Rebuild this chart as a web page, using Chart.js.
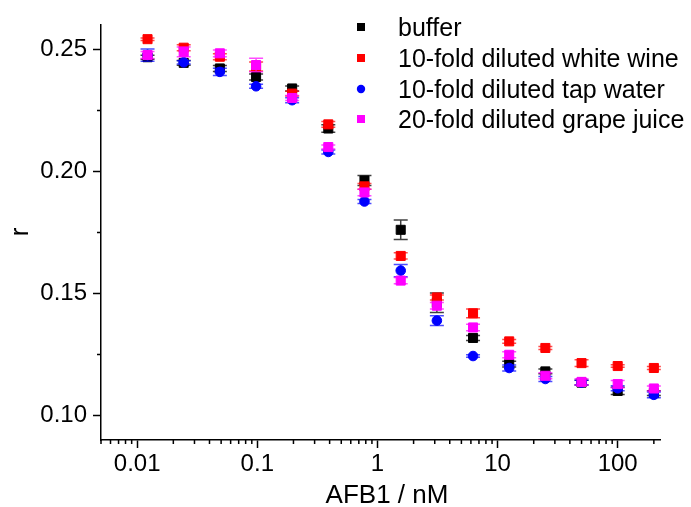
<!DOCTYPE html>
<html>
<head>
<meta charset="utf-8">
<script src="https://cdn.jsdelivr.net/npm/chart.js@4/dist/chart.umd.min.js"></script>
<style>
  html, body { margin: 0; padding: 0; background: #fff; }
  #wrap { width: 691px; height: 507px; }
</style>
</head>
<body>
<div id="wrap"><canvas id="afb-chart" width="691" height="507"></canvas></div>
<script>
// ============================================================
//  AFB1 competition curves – r vs concentration (log x)
// ============================================================

const conc = [0.0122, 0.0244, 0.0488, 0.0977, 0.195, 0.39, 0.78, 1.5625, 3.125, 6.25, 12.5, 25, 50, 100, 200];

const seriesLabels = ['buffer', '10-fold diluted white wine', '10-fold diluted tap water', '20-fold diluted grape juice'];

const buffer   = [0.2468, 0.2445, 0.2422, 0.2387, 0.2340, 0.2176, 0.1963, 0.1761, 0.1462, 0.1318, 0.1211, 0.1181, 0.1135, 0.1101, 0.1092];
const wine     = [0.2542, 0.2507, 0.2470, 0.2430, 0.2319, 0.2193, 0.1939, 0.1654, 0.1484, 0.1419, 0.1304, 0.1277, 0.1215, 0.1203, 0.1195];
const tap      = [0.2477, 0.2447, 0.2408, 0.2349, 0.2292, 0.2080, 0.1877, 0.1594, 0.1389, 0.1244, 0.1195, 0.1150, 0.1135, 0.1112, 0.1085];
const grape    = [0.2477, 0.2490, 0.2484, 0.2436, 0.2301, 0.2100, 0.1914, 0.1553, 0.1450, 0.1361, 0.1249, 0.1163, 0.1138, 0.1129, 0.1111];

const bufferErr = [0.0008, 0.0010, 0.0012, 0.0012, 0.0010, 0.0015, 0.0020, 0.0040, 0.0040, 0.0010, 0.0012, 0.0010, 0.0010, 0.0015, 0.0010];
const wineErr   = [0.0005, 0.0012, 0.0012, 0.0018, 0.0010, 0.0012, 0.0012, 0.0013, 0.0010, 0.0018, 0.0008, 0.0006, 0.0014, 0.0005, 0.0006];
const tapErr    = [0.0025, 0.0007, 0.0015, 0.0008, 0.0010, 0.0008, 0.0008, 0.0025, 0.0020, 0.0005, 0.0012, 0.0010, 0.0010, 0.0010, 0.0012];
const grapeErr  = [0.0014, 0.0020, 0.0014, 0.0028, 0.0010, 0.0008, 0.0013, 0.0013, 0.0013, 0.0013, 0.0012, 0.0012, 0.0013, 0.0015, 0.0010];

const xTicks = [0.01, 0.1, 1, 10, 100];
const yTicks = [0.10, 0.15, 0.20, 0.25];
const yMinorTicks = [0.125, 0.175, 0.225];

const FONT = "'Liberation Sans', Arial, sans-serif";

const styles = [
  { color: '#000000', bar: 'rgba(0,0,0,0.75)',     shape: 'rect' },
  { color: '#ff0000', bar: 'rgba(255,0,0,0.7)',    shape: 'rect' },
  { color: '#0000ff', bar: 'rgba(0,0,255,0.7)',    shape: 'circle' },
  { color: '#ff00ff', bar: 'rgba(255,0,255,0.7)',  shape: 'rect' },
];

const values = [buffer, wine, tap, grape];
const errors = [bufferErr, wineErr, tapErr, grapeErr];

// error bars, drawn just before each dataset's own symbols
const errorBars = {
  id: 'errorBars',
  beforeDatasetDraw(chart, args) {
    const i = args.index;
    const { ctx, scales: { x, y } } = chart;
    const cap = 7;
    ctx.save();
    ctx.strokeStyle = styles[i].bar;
    ctx.lineWidth = 1.5;
    values[i].forEach((v, k) => {
      const px = x.getPixelForValue(conc[k]);
      const top = y.getPixelForValue(v + errors[i][k]);
      const bot = y.getPixelForValue(v - errors[i][k]);
      ctx.beginPath();
      ctx.moveTo(px, top); ctx.lineTo(px, bot);
      ctx.moveTo(px - cap, top); ctx.lineTo(px + cap, top);
      ctx.moveTo(px - cap, bot); ctx.lineTo(px + cap, bot);
      ctx.stroke();
    });
    ctx.restore();
  }
};

// minor ticks, axis titles and the in-plot legend
const decorations = {
  id: 'decorations',
  afterDraw(chart) {
    const { ctx, chartArea: a, scales: { x, y } } = chart;
    ctx.save();
    ctx.strokeStyle = '#000';
    ctx.lineWidth = 1.5;
    ctx.beginPath();
    for (let e = -3; e <= 2; e++) {
      for (let m = 2; m <= 9; m++) {
        const v = m * Math.pow(10, e);
        if (v < x.min || v > x.max) continue;
        const px = x.getPixelForValue(v);
        ctx.moveTo(px, a.bottom); ctx.lineTo(px, a.bottom + 4);
      }
    }
    yMinorTicks.forEach(v => {
      const py = y.getPixelForValue(v);
      ctx.moveTo(a.left, py); ctx.lineTo(a.left - 4, py);
    });
    ctx.stroke();

    // axis titles
    ctx.fillStyle = '#000';
    ctx.font = '26px ' + FONT;
    ctx.textAlign = 'center';
    ctx.textBaseline = 'alphabetic';
    ctx.fillText('AFB1 / nM', 387, 503);
    ctx.save();
    ctx.translate(28, 232);
    ctx.rotate(-Math.PI / 2);
    ctx.fillText('r', 0, 0);
    ctx.restore();

    // legend
    ctx.font = '25px ' + FONT;
    ctx.textAlign = 'left';
    const rowY = [27, 58, 89, 119];
    seriesLabels.forEach((label, i) => {
      ctx.fillStyle = styles[i].color;
      ctx.beginPath();
      if (styles[i].shape === 'circle') {
        ctx.arc(361, rowY[i], 4.2, 0, Math.PI * 2);
      } else {
        ctx.rect(357, rowY[i] - 4, 8, 8);
      }
      ctx.fill();
      ctx.fillStyle = '#000';
      ctx.fillText(label, 398, rowY[i] + 9);
    });
    ctx.restore();
  }
};

const datasets = seriesLabels.map((label, i) => ({
  label,
  data: conc.map((c, k) => ({ x: c, y: values[i][k] })),
  showLine: false,
  pointStyle: styles[i].shape,
  pointRadius: styles[i].shape === 'circle' ? 4.8 : 6.4,
  pointBorderWidth: 1,
  pointBackgroundColor: styles[i].color,
  pointBorderColor: styles[i].color,
  order: 4 - i,   // later series on top, like the original
}));

new Chart(document.getElementById('afb-chart'), {
  type: 'scatter',
  data: { datasets },
  plugins: [errorBars, decorations],
  options: {
    responsive: false,
    animation: false,
    events: [],
    layout: { padding: { left: 0, top: 25, right: 31, bottom: 0 } },
    plugins: {
      legend: { display: false },
      tooltip: { enabled: false },
    },
    scales: {
      x: {
        type: 'logarithmic',
        min: 0.005,
        max: 225,
        afterBuildTicks: s => { s.ticks = xTicks.map(v => ({ value: v })); },
        afterFit: s => { s.height = 67; },
        border: { display: true, color: '#000', width: 1.5 },
        grid: { drawOnChartArea: false, drawTicks: true, tickLength: 8, tickColor: '#000', tickWidth: 1.5 },
        ticks: {
          color: '#000',
          font: { family: FONT, size: 24 },
          padding: 2,
          maxRotation: 0,
          autoSkip: false,
          callback: v => String(v),
        },
      },
      y: {
        min: 0.09,
        max: 0.26,
        afterBuildTicks: s => { s.ticks = yTicks.map(v => ({ value: v })); },
        afterFit: s => { s.width = 101; },
        border: { display: true, color: '#000', width: 1.5 },
        grid: { drawOnChartArea: false, drawTicks: true, tickLength: 8, tickColor: '#000', tickWidth: 1.5 },
        ticks: {
          color: '#000',
          font: { family: FONT, size: 24 },
          padding: 6,
          callback: v => v.toFixed(2),
        },
      },
    },
  },
});
</script>
</body>
</html>
